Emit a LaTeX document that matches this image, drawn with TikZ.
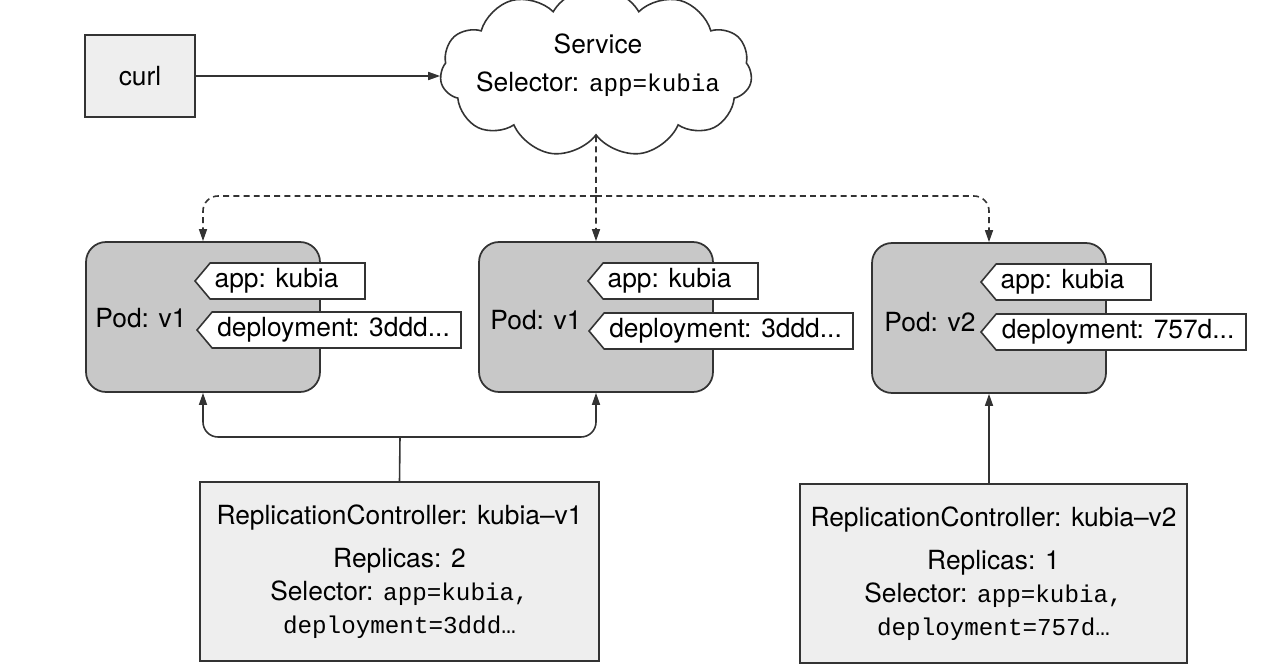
\documentclass[tikz,border=0pt]{standalone}
\usepackage{fontspec}
\setmainfont{TeX Gyre Heros}
\setmonofont{Liberation Mono}
\usetikzlibrary{shapes.symbols,arrows.meta}
\definecolor{ln}{HTML}{333333}
\definecolor{podfill}{HTML}{C8C8C8}
\definecolor{boxfill}{HTML}{EEEEEE}
\newcommand\monotext[1]{{\fontsize{13.8}{18.7}\selectfont\ttfamily #1}}
\begin{document}
\begin{tikzpicture}[x=0.02cm,y=-0.02cm,
  font=\fontsize{15}{18.7}\selectfont,
  line/.style={draw=ln, line width=0.9pt},
  arr/.style={line, -{Triangle[length=0.24cm,width=0.16cm]}},
  dasharr/.style={arr, dash pattern=on 3.4pt off 2.4pt},
  plainbox/.style={draw=ln, line width=0.9pt, fill=boxfill, rectangle, inner sep=0pt, align=center},
  pod/.style={draw=ln, line width=1pt, fill=podfill, rounded corners=0.4cm, minimum width=4.68cm, minimum height=3cm},
  tag/.style={signal, signal to=west, signal pointer angle=100, draw=ln, line width=0.9pt, fill=white, minimum height=0.72cm, inner sep=0pt, anchor=west},
  txt/.style={inner sep=0pt, align=center}
]
\useasboundingbox (0,0) rectangle (1270,672);
\clip (0,0) rectangle (1270,672);

% top
\node[plainbox, minimum width=2.2cm, minimum height=1.64cm] (curl) at (140,76) {curl};
\node[cloud, draw=ln, line width=0.9pt, fill=white, cloud puffs=11, cloud puff arc=120,
      cloud ignores aspect, minimum width=6.24cm, minimum height=3.4cm, inner sep=0pt] (svc) at (596,72) {};
\node[txt] (svctext) at (598,65) {Service\\[2.8pt]Selector: \monotext{app=kubia}};

% pods
\node[pod] (pod1) at (203,317) {};
\node[pod] (pod2) at (596,317) {};
\node[pod] (pod3) at (989,318) {};
\node[txt] (p1lbl) at (141,318) {Pod: v1};
\node[txt] (p2lbl) at (536,320) {Pod: v1};
\node[txt] (p3lbl) at (930,322) {Pod: v2};

% labels
\node[tag, minimum width=3.4cm] (p1app) at (194,281) {app: kubia\kern0.44cm};
\node[tag, minimum width=5.28cm] (p1dep) at (196,330) {deployment: 3ddd...\kern0.12cm};
\node[tag, minimum width=3.4cm] (p2app) at (587,281) {app: kubia\kern0.44cm};
\node[tag, minimum width=5.28cm] (p2dep) at (588,331) {deployment: 3ddd...\kern0.12cm};
\node[tag, minimum width=3.4cm] (p3app) at (980,282) {app: kubia\kern0.44cm};
\node[tag, minimum width=5.3cm] (p3dep) at (980,332) {deployment: 757d...\kern0.12cm};

% replication controllers
\node[plainbox, minimum width=7.98cm, minimum height=3.58cm] (rc1) at (399.5,571.5)
  {ReplicationController: kubia–v1\\[6.3pt]Replicas: 2\\Selector: \monotext{app=kubia,}\\\monotext{deployment=3ddd…}};
\node[plainbox, minimum width=7.74cm, minimum height=3.58cm] (rc2) at (993.5,573.5)
  {ReplicationController: kubia–v2\\[6.3pt]Replicas: 1\\Selector: \monotext{app=kubia,}\\\monotext{deployment=757d…}};

% connectors
\draw[arr] (curl.east) -- (curl.east -| svc.west);
\coordinate (hub) at (596,196);
\draw[dasharr] (svc.south) -- (pod2.north);
\draw[dasharr, rounded corners=0.3cm] (hub) -| (pod1.north);
\draw[dasharr, rounded corners=0.3cm] (hub) -| (pod3.north);

\coordinate (rc1hub) at (400,437);
\draw[line] (rc1.north) -- (rc1hub);
\draw[arr, rounded corners=0.3cm] (rc1hub) -| (pod1.south);
\draw[arr, rounded corners=0.3cm] (rc1hub) -| (pod2.south);
\draw[arr] (pod3.south |- rc2.north) -- (pod3.south);
\end{tikzpicture}
\end{document}
